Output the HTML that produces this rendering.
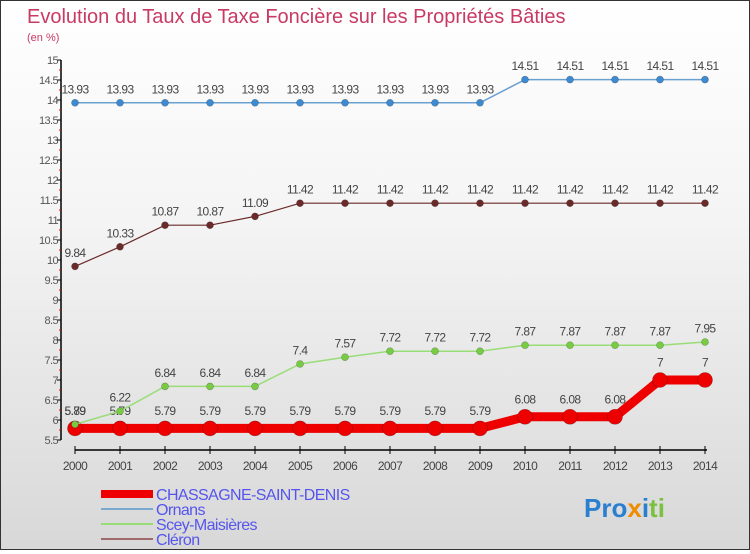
<!DOCTYPE html>
<html><head><meta charset="utf-8"><style>
body{margin:0;}
#c{width:748px;height:548px;border:1px solid #333;background:linear-gradient(#fff 0%,#f4f4f4 40%,#d8d8d8 100%);position:relative;font-family:"Liberation Sans",sans-serif;}
svg text{font-family:"Liberation Sans",sans-serif;}
</style></head><body>
<div id="c">
<svg id="s" width="748" height="548">
<text x="26" y="22" font-size="20" fill="#c83a64">Evolution du Taux de Taxe Foncière sur les Propriétés Bâties</text>
<text x="26" y="40" font-size="11" fill="#c83a64">(en %)</text>
<g id="axes"></g><g id="series"></g><g id="legend"></g>
<g>
<text x="583" y="516" font-size="26" font-weight="bold" fill="#2a7fd0">Pro<tspan fill="#f08c00">x</tspan><tspan fill="#2a7fd0">i</tspan><tspan fill="#7cc040">ti</tspan></text>
</g>
</svg></div>
<script>
const years=[2000,2001,2002,2003,2004,2005,2006,2007,2008,2009,2010,2011,2012,2013,2014];
const chassagne=[5.79,5.79,5.79,5.79,5.79,5.79,5.79,5.79,5.79,5.79,6.08,6.08,6.08,7,7];
const ornans=[13.93,13.93,13.93,13.93,13.93,13.93,13.93,13.93,13.93,13.93,14.51,14.51,14.51,14.51,14.51];
const scey=[5.89,6.22,6.84,6.84,6.84,7.4,7.57,7.72,7.72,7.72,7.87,7.87,7.87,7.87,7.95];
const cleron=[9.84,10.33,10.87,10.87,11.09,11.42,11.42,11.42,11.42,11.42,11.42,11.42,11.42,11.42,11.42];
const yTicks=[5.5,6,6.5,7,7.5,8,8.5,9,9.5,10,10.5,11,11.5,12,12.5,13,13.5,14,14.5,15];
const ns="http://www.w3.org/2000/svg";
function X(i){return 74+i*45;}
function Y(v){return 59+(15-v)*40;}
function mk(t,a,p){const e=document.createElementNS(ns,t);for(const k in a)e.setAttribute(k,a[k]);p.appendChild(e);return e;}
const ax=document.getElementById('axes');
let l=mk('line',{x1:60,y1:Y(15),x2:60,y2:Y(5.5),stroke:'#000','stroke-width':1.5},ax);


yTicks.forEach(v=>{
 let t=mk('line',{x1:56,y1:Y(v),x2:60,y2:Y(v),stroke:'#000'},ax);
 
 
 if(v<15){
 let r=mk('line',{x1:58,y1:Y(v+0.25),x2:60,y2:Y(v+0.25),stroke:'#e00'},ax);
 
 
 }
 let tx=mk('text',{x:57,y:Y(v)+4,'text-anchor':'end','font-size':11,fill:'#555','letter-spacing':'-0.6'},ax);
 tx.textContent=String(v);
 
 
});
l=mk('line',{x1:74,y1:449,x2:706,y2:449,stroke:'#000','stroke-width':1.5},ax);


years.forEach((y,i)=>{
 let t=mk('line',{x1:X(i),y1:445,x2:X(i),y2:453,stroke:'#000'},ax);
 
 
 let tx=mk('text',{x:X(i),y:469,'text-anchor':'middle','font-size':12,fill:'#444','letter-spacing':'-0.6'},ax);
 tx.textContent=y;
 
 
});
const sg=document.getElementById('series');
function series(name,data,color,dot,w,r){
 const g=mk('g',{},sg);
 
 
 const pl=mk('polyline',{points:data.map((v,i)=>X(i)+','+Y(v)).join(' '),fill:'none',stroke:color,'stroke-width':w},g);
 
 
 data.forEach((v,i)=>{
  const c=mk('circle',{cx:X(i),cy:Y(v),r:r,fill:dot,stroke:'rgba(0,0,0,0.3)','stroke-width':0.6},g);
  
  
  const t=mk('text',{x:X(i),y:Y(v)-(r+6),'text-anchor':'middle','font-size':12,fill:'#444','letter-spacing':'-0.6'},g);
  t.textContent=String(v);
  
  
 });
}
series('cleron',cleron,'#6b2a2a','#6b2a2a',1.2,3.5);
series('ornans',ornans,'#6aa0d0','#3d8ad0',1.5,3.5);
series('chassagne',chassagne,'#ee0000','#ee0000',9,7.5);
series('scey',scey,'#99dd77','#77cc44',1.5,3.5);
const lg=document.getElementById('legend');
[['CHASSAGNE-SAINT-DENIS','#ee0000',8,493],['Ornans','#7aaad0',2,508],['Scey-Maisières','#99dd77',2,523],['Cléron','#a06a6a',2,538]].forEach(d=>{
 const g=mk('g',{},lg);
 
 
 mk('line',{x1:100,y1:d[3],x2:152,y2:d[3],stroke:d[1],'stroke-width':d[2]},g);
 const t=mk('text',{x:155,y:d[3]+6,'font-size':16,fill:'#5555ee','letter-spacing':'-0.6'},g);
 t.textContent=d[0];
});
</script>
</body></html>
